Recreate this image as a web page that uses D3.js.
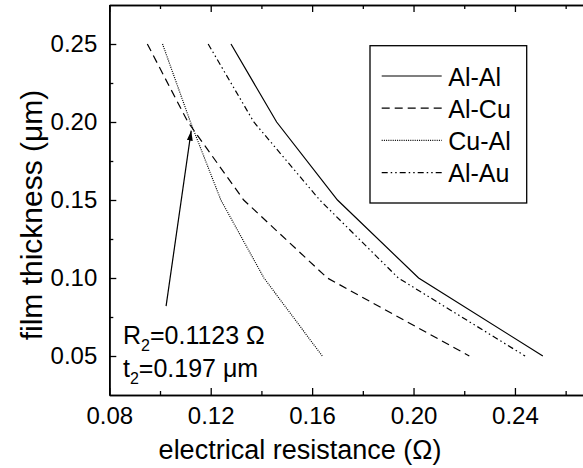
<!DOCTYPE html>
<html>
<head>
<meta charset="utf-8">
<script src="https://cdn.jsdelivr.net/npm/d3@7"></script>
<style>
  body { margin: 0; background: #fff; }
  svg text { font-family: "Liberation Sans", Arial, sans-serif; fill: #000; }
</style>
</head>
<body>
<script>
// film thickness (um) for every curve
const thickness = [0.25, 0.20, 0.15, 0.10, 0.05];
// electrical resistance (ohm)
const alAl = [0.128, 0.146, 0.170, 0.202, 0.251];
const alCu = [0.095, 0.111, 0.133, 0.166, 0.222];
const cuAl = [0.101, 0.112, 0.124, 0.141, 0.164];
const alAu = [0.119, 0.137, 0.163, 0.194, 0.244];
const seriesNames = ["Al-Al", "Al-Cu", "Cu-Al", "Al-Au"];
const dashes = [null, "8,5", "1,1.2", "6,3,1.5,3,1.5,3"];

const xMajor = [0.08, 0.12, 0.16, 0.20, 0.24];
const xMinor = [0.10, 0.14, 0.18, 0.22, 0.26];
const yMajor = [0.05, 0.10, 0.15, 0.20, 0.25];
const yMinor = [0.075, 0.125, 0.175, 0.225];

// annotation: crossing of Al-Cu and Cu-Al
const crossR = 0.1123, crossT = 0.197;
const arrowTail = [0.1024, 0.082];

var width = 583;
var height = 468;
const svg = d3.select("body")
    .append("svg")
    .attr("width", width)
    .attr("height", height);

const x = d3.scaleLinear().domain([0.08, 0.27]).range([109.3, 591]);
const y = d3.scaleLinear().domain([0.025, 0.275]).range([395, 5]);

const fmt = d3.format(".2f");

function styleAxis(g) {
    g.select(".domain").attr("stroke-width", 1.6);
    g.selectAll(".tick line").attr("stroke-width", 1.3);
    g.selectAll("text").attr("font-size", 24).attr("font-family", null);
}

// bottom
svg.append("g").attr("transform", "translate(0,395)")
    .call(d3.axisBottom(x).tickValues(xMajor).tickSize(-7).tickSizeOuter(0).tickPadding(12).tickFormat(fmt))
    .call(styleAxis);
svg.append("g").attr("transform", "translate(0,395)")
    .call(d3.axisBottom(x).tickValues(xMinor).tickSize(-4).tickSizeOuter(0).tickFormat(""))
    .call(styleAxis);
// top
svg.append("g").attr("transform", "translate(0,5)")
    .call(d3.axisTop(x).tickValues(xMajor).tickSize(-7).tickSizeOuter(0).tickFormat(""))
    .call(styleAxis);
svg.append("g").attr("transform", "translate(0,5)")
    .call(d3.axisTop(x).tickValues(xMinor).tickSize(-4).tickSizeOuter(0).tickFormat(""))
    .call(styleAxis);
// left
svg.append("g").attr("transform", "translate(109.3,0)")
    .call(d3.axisLeft(y).tickValues(yMajor).tickSize(-7).tickSizeOuter(0).tickPadding(12).tickFormat(fmt))
    .call(styleAxis);
svg.append("g").attr("transform", "translate(109.3,0)")
    .call(d3.axisLeft(y).tickValues(yMinor).tickSize(-4).tickSizeOuter(0).tickFormat(""))
    .call(styleAxis);

// titles
svg.append("text")
    .attr("x", 300).attr("y", 459)
    .attr("text-anchor", "middle")
    .attr("font-size", 27)
    .text("electrical resistance (\u03A9)");
svg.append("text")
    .attr("transform", "translate(42,215) rotate(-90)")
    .attr("text-anchor", "middle")
    .attr("font-size", 30)
    .text("film thickness (\u03BCm)");

// curves
const line = d3.line()
    .x(function (d) { return x(d[0]); })
    .y(function (d) { return y(d[1]); });
const allSeries = [alAl, alCu, cuAl, alAu];
allSeries.forEach(function (s, i) {
    svg.append("path")
        .datum(s.map(function (v, j) { return [v, thickness[j]]; }))
        .attr("d", line)
        .attr("fill", "none")
        .attr("stroke", "#000")
        .attr("stroke-width", 1.2)
        .attr("stroke-dasharray", dashes[i]);
});

// arrow
svg.append("defs").append("marker")
    .attr("id", "head")
    .attr("viewBox", "0 0 10 6")
    .attr("refX", 10).attr("refY", 3)
    .attr("markerWidth", 10).attr("markerHeight", 6)
    .attr("markerUnits", "userSpaceOnUse")
    .attr("orient", "auto")
    .append("path").attr("d", "M0,0L10,3L0,6Z").attr("fill", "#000");
svg.append("line")
    .attr("x1", x(arrowTail[0])).attr("y1", y(arrowTail[1]))
    .attr("x2", x(crossR)).attr("y2", y(crossT) + 4)
    .attr("stroke", "#000").attr("stroke-width", 1.2)
    .attr("marker-end", "url(#head)");

// annotation text
const note1 = svg.append("text").attr("x", 123).attr("y", 344).attr("font-size", 25);
note1.append("tspan").text("R");
note1.append("tspan").attr("font-size", 16).attr("dy", 7).text("2");
note1.append("tspan").attr("dy", -7).text("=" + crossR + " \u03A9");
const note2 = svg.append("text").attr("x", 123).attr("y", 377).attr("font-size", 25);
note2.append("tspan").text("t");
note2.append("tspan").attr("font-size", 16).attr("dy", 7).text("2");
note2.append("tspan").attr("dy", -7).text("=" + crossT + " \u03BCm");

// legend
const legend = svg.append("g");
legend.append("rect")
    .attr("x", 370).attr("y", 45.7).attr("width", 156.7).attr("height", 157.3)
    .attr("fill", "#fff").attr("stroke", "#000").attr("stroke-width", 1.3);
seriesNames.forEach(function (name, i) {
    const ly = 76 + i * 32.2;
    legend.append("line")
        .attr("x1", 381.7).attr("x2", 441.7).attr("y1", ly).attr("y2", ly)
        .attr("stroke", "#000").attr("stroke-width", 1.2)
        .attr("stroke-dasharray", dashes[i]);
    legend.append("text")
        .attr("x", 448.3).attr("y", ly + 9.5)
        .attr("font-size", 25)
        .text(name);
});
</script>
</body>
</html>
